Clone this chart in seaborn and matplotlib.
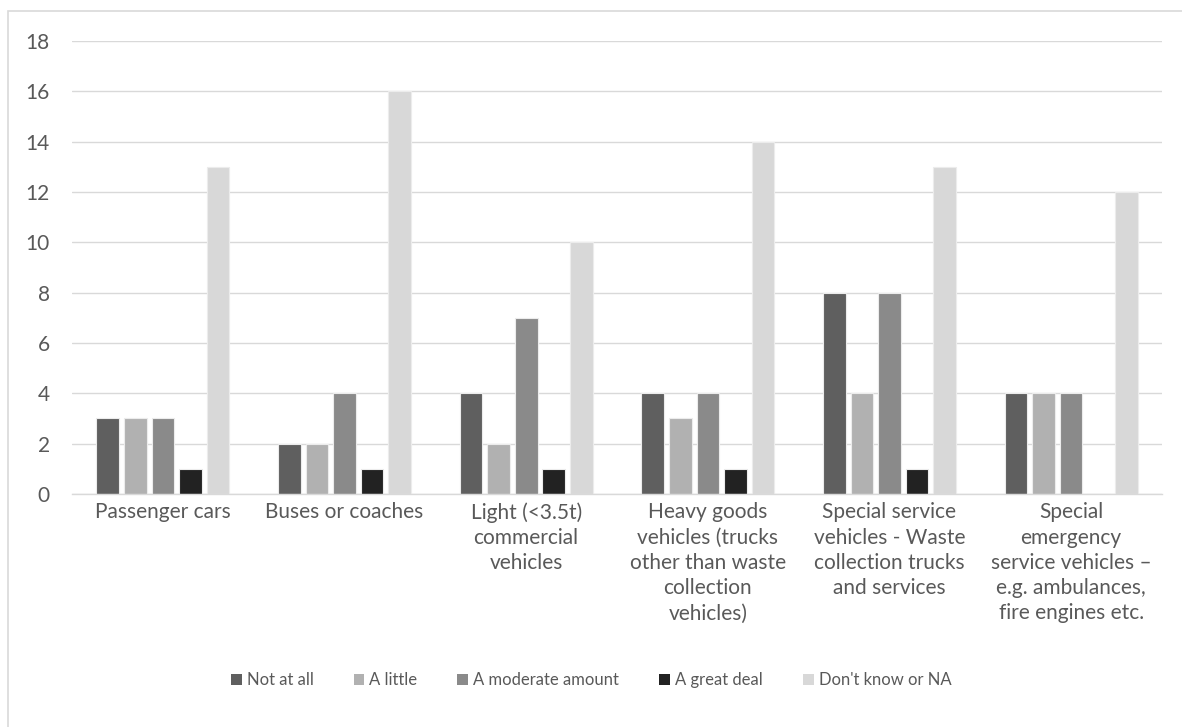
import numpy as np
import matplotlib
matplotlib.use("Agg")
import matplotlib.pyplot as plt
from matplotlib.patches import Rectangle
import seaborn as sns
import pandas as pd

categories = [
    "Passenger cars",
    "Buses or coaches",
    "Light (<3.5t)\ncommercial\nvehicles",
    "Heavy goods\nvehicles (trucks\nother than waste\ncollection\nvehicles)",
    "Special service\nvehicles - Waste\ncollection trucks\nand services",
    "Special\nemergency\nservice vehicles \u2013\ne.g. ambulances,\nfire engines etc.",
]
series = ["Not at all", "A little", "A moderate amount", "A great deal", "Don't know or NA"]
not_at_all = [3, 2, 4, 4, 8, 4]
a_little = [3, 2, 2, 3, 4, 4]
moderate = [3, 4, 7, 4, 8, 4]
great_deal = [1, 1, 1, 1, 1, 0]
dont_know = [13, 16, 10, 14, 13, 12]
colors = ["#5f5f5f", "#b1b1b1", "#8a8a8a", "#222222", "#d8d8d8"]
yticks = list(range(0, 19, 2))

# long table for seaborn
values = [not_at_all, a_little, moderate, great_deal, dont_know]
rows = []
for s, vals in zip(series, values):
    for c, v in zip(categories, vals):
        rows.append({"category": c, "series": s, "value": v})
df = pd.DataFrame(rows)

sns.set_style("white")
plt.rcParams['font.family'] = ['Lato', 'DejaVu Sans']
text_col = "#595959"
grid_col = "#d9d9d9"

fig = plt.figure(figsize=(11.82, 7.27), dpi=100)
ax = fig.add_axes([0.061, 0.3205, 0.922, 0.6231])

sns.barplot(data=df, x="category", y="value", hue="series", order=categories,
            hue_order=series, palette=colors, width=0.76, gap=0.18,
            edgecolor="#ececec", linewidth=0.8, ax=ax, legend=True)

ax.set_ylim(0, 18)
ax.set_xlim(-0.5, len(categories) - 0.5)
ax.set_yticks(yticks)
ax.set_yticklabels([str(t) for t in yticks], fontsize=15, color=text_col)
ax.tick_params(axis="y", length=0, pad=16)
ax.tick_params(axis="x", length=0, pad=6)
ax.set_xticks(range(len(categories)))
ax.set_xticklabels(categories, fontsize=15, color=text_col, linespacing=1.33, va="top")
ax.set_xlabel("")
ax.set_ylabel("")
ax.grid(axis="y", color=grid_col, linewidth=1)
ax.set_axisbelow(True)
for side in ["top", "right", "left"]:
    ax.spines[side].set_visible(False)
ax.spines["bottom"].set_color(grid_col)
ax.spines["bottom"].set_linewidth(1)

handles, labels = ax.get_legend_handles_labels()
ax.legend_.remove()
leg = fig.legend(handles, labels, loc="center", bbox_to_anchor=(0.5, 0.064), ncol=5,
                 frameon=False, fontsize=12, handlelength=0.65, handleheight=0.65,
                 handletextpad=0.3, columnspacing=2.4, labelcolor=text_col)
for h in leg.legend_handles:
    h.set_edgecolor("none")

# chart border
fig.patches.append(Rectangle((8 / 1182, -0.1), 1.2, 1 - 11 / 727 + 0.1,
                             transform=fig.transFigure, fill=False,
                             edgecolor=grid_col, linewidth=1.2))

fig.savefig("out.png", dpi=100, facecolor="white")
